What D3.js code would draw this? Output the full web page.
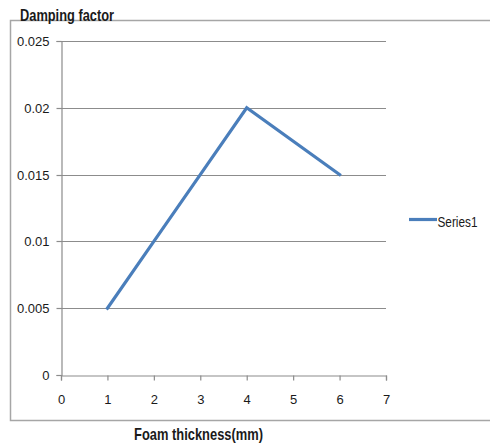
<!DOCTYPE html>
<html>
<head>
<meta charset="utf-8">
<script src="https://cdn.jsdelivr.net/npm/d3@7"></script>
<style>
  html, body { margin: 0; padding: 0; background: #fff; }
  svg { display: block; }
  text { font-family: "Liberation Sans Narrow", "Liberation Sans", "DejaVu Sans Condensed", sans-serif; fill: #1a1a1a; }
</style>
</head>
<body>
<svg id="chart" width="490" height="446"></svg>
<script>
// Foam thickness (mm) against damping factor
const thickness = [1, 2, 3, 4, 6];
const damping = [0.005, 0.01, 0.015, 0.02, 0.015];
const xTicks = [0, 1, 2, 3, 4, 5, 6, 7];
const yTicks = [0, 0.005, 0.01, 0.015, 0.02, 0.025];
const seriesName = "Series1";

const svg = d3.select("#chart");
const plot = { left: 61, right: 386, top: 41, bottom: 375 };

const x = d3.scaleLinear().domain([0, 7]).range([plot.left, plot.right]);
const y = d3.scaleLinear().domain([0, 0.025]).range([plot.bottom, plot.top]);

// outer frame
svg.append("rect")
  .attr("x", 10.5).attr("y", 20.5)
  .attr("width", 490).attr("height", 400)
  .attr("fill", "none").attr("stroke", "#a6a6a6").attr("stroke-width", 1.5);

// horizontal gridlines
svg.append("g")
  .selectAll("line")
  .data(yTicks.slice(1))
  .join("line")
  .attr("x1", plot.left).attr("x2", plot.right)
  .attr("y1", d => Math.round(y(d)) + 0.5).attr("y2", d => Math.round(y(d)) + 0.5)
  .attr("stroke", "#8c8c8c").attr("stroke-width", 1.2);

// y axis
const yAxis = d3.axisLeft(y).tickValues(yTicks).tickSize(5).tickPadding(7)
  .tickFormat(d => d === 0 ? "0" : String(+d.toFixed(3)));
const gy = svg.append("g").attr("transform", `translate(${plot.left + 0.5},0)`).call(yAxis);
gy.select(".domain").attr("stroke", "#8c8c8c").attr("stroke-width", 1.2);
gy.selectAll(".tick line").attr("stroke", "#8c8c8c").attr("stroke-width", 1.2);
gy.selectAll(".tick text").attr("font-size", 13).style("fill", "#1a1a1a");
gy.selectAll(".tick").attr("transform", d => `translate(0,${Math.round(y(d)) + 0.5})`);

// x axis
const xAxis = d3.axisBottom(x).tickValues(xTicks).tickSize(5).tickPadding(14)
  .tickFormat(d3.format("d"));
const gx = svg.append("g").attr("transform", `translate(0,${plot.bottom + 0.5})`).call(xAxis);
gx.select(".domain").attr("stroke", "#8c8c8c").attr("stroke-width", 1.2);
gx.selectAll(".tick line").attr("stroke", "#8c8c8c").attr("stroke-width", 1.2);
gx.selectAll(".tick text").attr("font-size", 13).style("fill", "#1a1a1a");

// data line
const line = d3.line().x((d, i) => x(thickness[i])).y(d => y(d));
svg.append("path")
  .datum(damping)
  .attr("d", line)
  .attr("fill", "none")
  .attr("stroke", "#4a7ebb")
  .attr("stroke-width", 3.2)
  .attr("stroke-linejoin", "miter")
  .attr("stroke-linecap", "square");

// legend
const lg = svg.append("g").attr("transform", "translate(409,219.5)");
lg.append("line").attr("x1", 0).attr("x2", 28).attr("y1", 0).attr("y2", 0)
  .attr("stroke", "#4a7ebb").attr("stroke-width", 3.2);
lg.append("text").attr("x", 28.5).attr("y", 7.5).attr("font-size", 14.5)
  .attr("textLength", 40).attr("lengthAdjust", "spacingAndGlyphs").text(seriesName);

// axis titles
svg.append("text").attr("x", 20).attr("y", 21)
  .attr("font-size", 16.5).attr("font-weight", "bold")
  .attr("textLength", 94).attr("lengthAdjust", "spacingAndGlyphs").text("Damping factor");
svg.append("text").attr("x", 134).attr("y", 440)
  .attr("font-size", 16.5).attr("font-weight", "bold")
  .attr("textLength", 129).attr("lengthAdjust", "spacingAndGlyphs").text("Foam thickness(mm)");
</script>
</body>
</html>
